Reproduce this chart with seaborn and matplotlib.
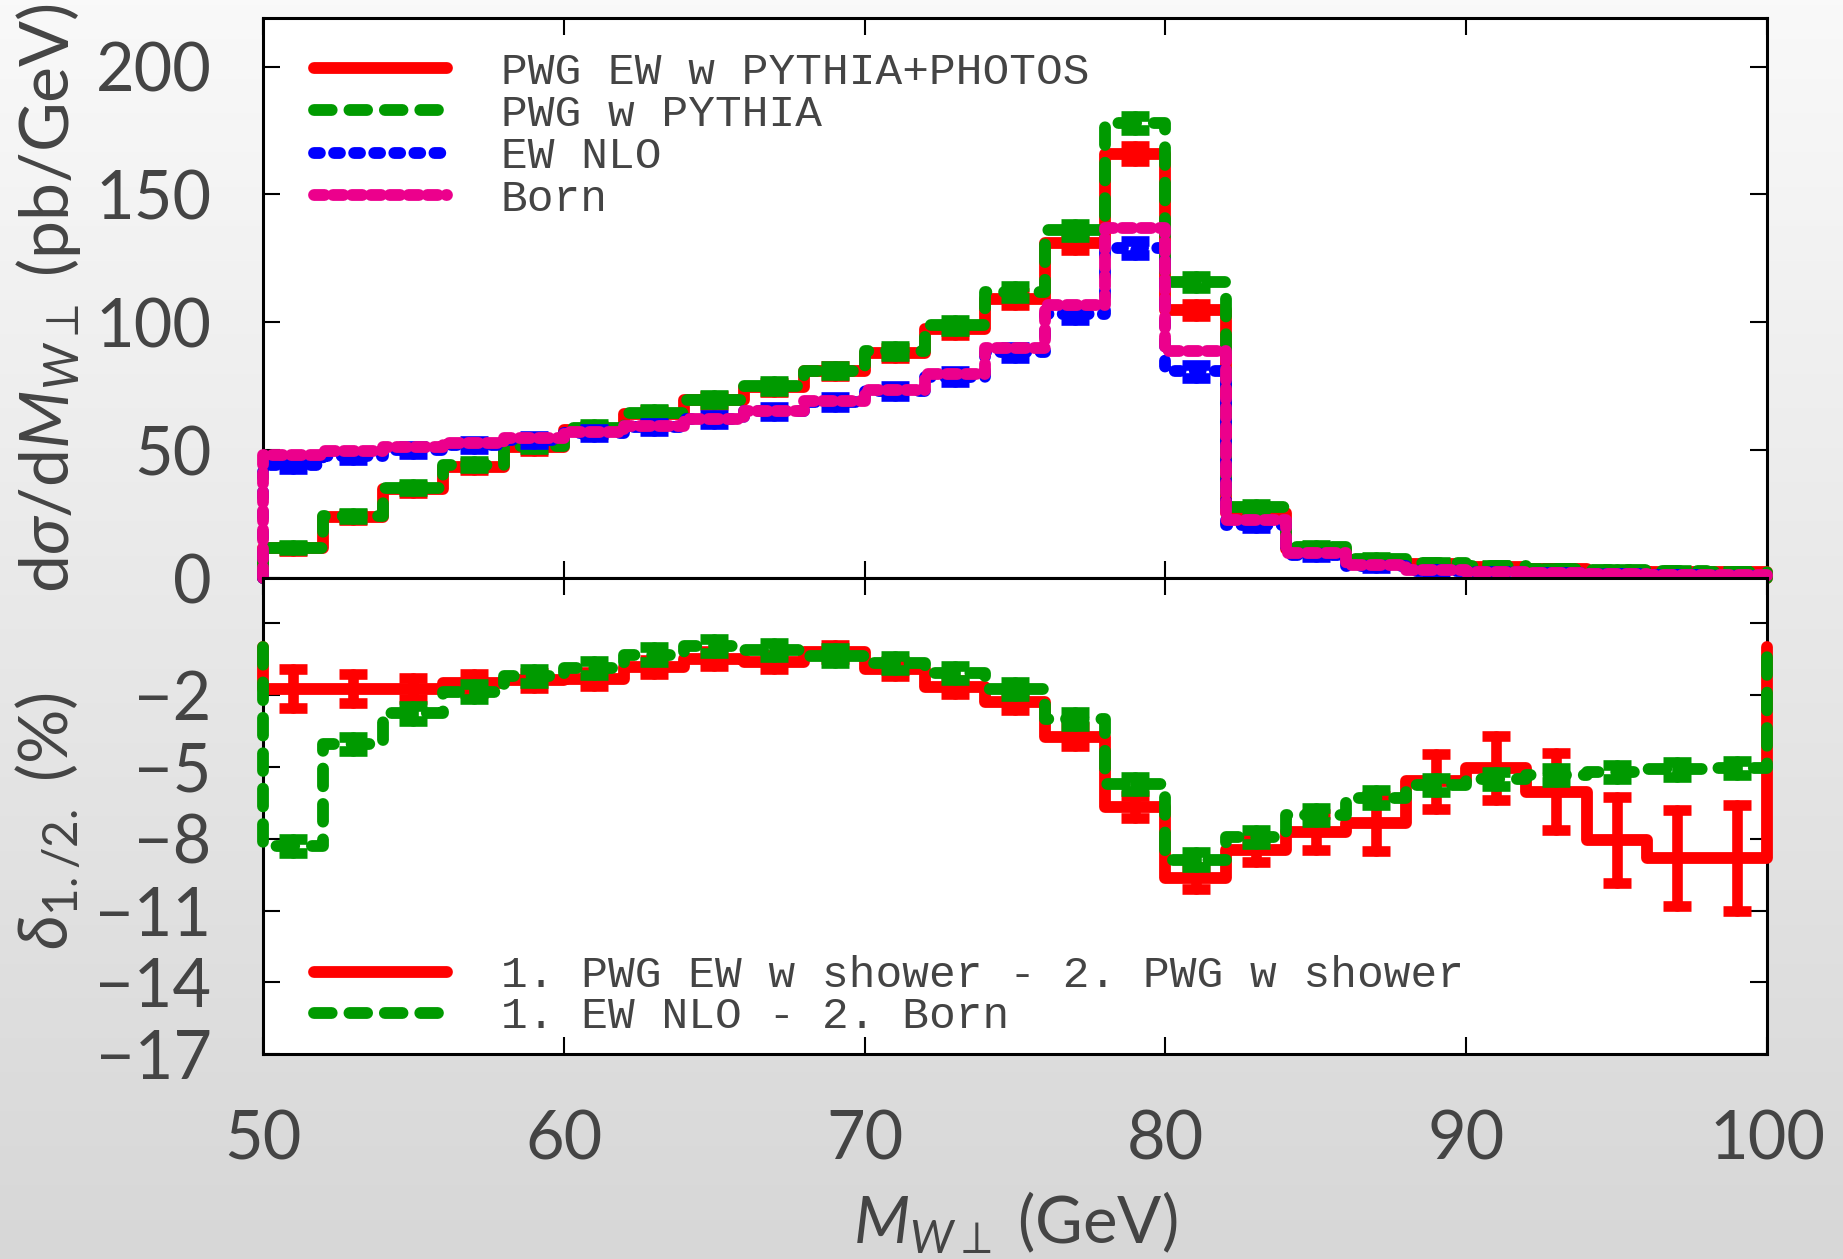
import numpy as np
import pandas as pd
import matplotlib
matplotlib.use("Agg")
import matplotlib.pyplot as plt
from matplotlib.colors import LinearSegmentedColormap
import seaborn as sns

# ---------------- data ----------------
edges = [50, 52, 54, 56, 58, 60, 62, 64, 66, 68, 70, 72, 74, 76, 78, 80,
         82, 84, 86, 88, 90, 92, 94, 96, 98, 100]

pwg_ew_shower = [11.6, 23.7, 34.7, 43.6, 51.1, 57.8, 64.1, 69.5, 74.6, 80.9,
                 88.1, 97.2, 109.2, 130.9, 166.0, 104.8, 25.4, 11.2, 7.0, 5.5,
                 4.3, 3.5, 2.85, 2.45, 2.2]
pwg_shower = [11.8, 24.1, 35.3, 44.3, 51.8, 58.6, 64.6, 69.8, 75.1, 81.1,
              88.9, 98.8, 111.8, 135.9, 177.9, 115.9, 27.8, 12.1, 7.6, 5.8,
              4.5, 3.7, 3.1, 2.7, 2.4]
ew_nlo = [44.2, 47.6, 50.0, 51.9, 54.1, 56.6, 59.2, 62.0, 65.2, 68.8,
          73.1, 78.7, 88.2, 103.4, 129.1, 80.8, 20.7, 9.1, 4.6, 2.9,
          2.4, 1.9, 1.5, 1.2, 0.95]
born = [48.2, 49.6, 51.4, 52.9, 54.8, 57.1, 59.3, 62.0, 65.3, 69.1,
        73.6, 79.6, 89.8, 106.6, 136.9, 88.6, 22.5, 9.8, 4.9, 3.1,
        2.5, 2.0, 1.6, 1.3, 1.0]

err_ew_shower = [1.0, 1.2, 1.3, 1.4, 1.5, 1.6, 1.6, 1.7, 1.8, 1.9, 2.0, 2.1,
                 2.3, 2.5, 2.8, 2.4, 1.2, 0.8, 0.6, 0.5, 0.5, 0.4, 0.4, 0.4, 0.4]
err_shower = [1.0, 1.2, 1.3, 1.4, 1.5, 1.6, 1.6, 1.7, 1.8, 1.9, 2.0, 2.1,
              2.3, 2.5, 2.8, 2.4, 1.2, 0.8, 0.6, 0.5, 0.5, 0.4, 0.4, 0.4, 0.4]
err_nlo = [1.5, 1.5, 1.5, 1.5, 1.5, 1.6, 1.6, 1.7, 1.8, 1.9, 2.0, 2.1,
           2.3, 2.5, 2.8, 2.4, 1.2, 0.8, 0.6, 0.5, 0.5, 0.4, 0.4, 0.4, 0.4]

delta_shower = [-1.72, -1.72, -1.72, -1.5, -1.38, -1.31, -0.82, -0.47, -0.61,
                -0.2, -0.89, -1.65, -2.28, -3.74, -6.68, -9.64, -8.46, -7.7,
                -7.35, -5.6, -5.05, -6.03, -8.04, -8.8, -8.8]
delta_shower_err = [0.8, 0.6, 0.45, 0.4, 0.3, 0.3, 0.3, 0.3, 0.3, 0.3, 0.3,
                    0.3, 0.35, 0.4, 0.45, 0.45, 0.5, 0.75, 1.15, 1.15, 1.35,
                    1.6, 1.8, 2.0, 2.2]
delta_born = [-8.3, -4.03, -2.76, -1.85, -1.2, -0.85, -0.3, 0.05, -0.1, -0.34,
              -0.66, -1.08, -1.75, -3.0, -5.7, -8.87, -7.94, -7.0, -6.28,
              -5.74, -5.49, -5.34, -5.2, -5.1, -5.05]
delta_born_err = [0.3] * 25

upper_labels = ["PWG EW w PYTHIA+PHOTOS", "PWG w PYTHIA", "EW NLO", "Born"]
lower_labels = ["1. PWG EW w shower - 2. PWG w shower", "1. EW NLO - 2. Born"]
upper_yticks = [0, 50, 100, 150, 200]
lower_yticks = [-17, -14, -11, -8, -5, -2, 1]
lower_yticklabels = ["\u221217", "\u221214", "\u221211", "\u22128", "\u22125", "\u22122", ""]
xticks = [50, 60, 70, 80, 90, 100]

# ---------------- style ----------------
sns.set_theme(style="ticks")
plt.rcParams["font.family"] = ["Lato", "DejaVu Sans"]
plt.rcParams["mathtext.fontset"] = "custom"
plt.rcParams["mathtext.rm"] = "Lato"
plt.rcParams["mathtext.it"] = "Lato:italic"
plt.rcParams["mathtext.bf"] = "Lato:bold"

RED = "#ff0000"
GREEN = "#009a00"
BLUE = "#0000ff"
MAGENTA = "#ec008c"
TXT = "#444444"
LW = 8.5

fig = plt.figure(figsize=(18.43, 12.59), dpi=100)

# background gradient
bg = fig.add_axes([0, 0, 1, 1], zorder=-10)
grad = np.linspace(0, 1, 256).reshape(-1, 1)
cmap = LinearSegmentedColormap.from_list("bg", ["#f9f9f9", "#d7d7d7"])
bg.imshow(grad, aspect="auto", cmap=cmap, extent=[0, 1, 0, 1], origin="upper")
bg.set_axis_off()

ax1 = fig.add_axes([0.1427, 0.5409, 0.8161, 0.4448])
ax2 = fig.add_axes([0.1427, 0.1628, 0.8161, 0.3781])
for ax in (ax1, ax2):
    ax.set_facecolor("white")

edges_a = np.array(edges, dtype=float)
centers = 0.5 * (edges_a[:-1] + edges_a[1:])


def step_frame(values):
    x = np.r_[edges_a[0], edges_a]
    y = np.r_[0.0, np.asarray(values, dtype=float), 0.0]
    return pd.DataFrame({"x": x, "y": y})


def draw_series(ax, values, err, color, ls, label, z):
    df = step_frame(values)
    sns.lineplot(data=df, x="x", y="y", ax=ax, estimator=None, sort=False,
                 drawstyle="steps-post", color=color, linewidth=LW,
                 linestyle=ls, label=label, zorder=z, clip_on=False,
                 dash_capstyle="round", solid_capstyle="round",
                 solid_joinstyle="round", dash_joinstyle="round")
    if err is not None:
        eb = ax.errorbar(centers, values, yerr=err, fmt="none", ecolor=color,
                         elinewidth=LW * 0.9, capsize=10, capthick=LW * 0.9,
                         zorder=z, clip_on=False)
        for art in eb.lines[2]:
            art.set_capstyle("round")
            if ls != "-":
                art.set_linestyle(ls)
        for cap in eb.lines[1]:
            cap.set_solid_capstyle("round")


dash_green = (0, (1.5, 1.5))
dot_blue = (0, (0.5, 1.2))
dash_mag = (0, (0.9, 0.7))

draw_series(ax1, pwg_ew_shower, err_ew_shower, RED, "-", upper_labels[0], 3)
draw_series(ax1, pwg_shower, err_shower, GREEN, dash_green, upper_labels[1], 4)
draw_series(ax1, ew_nlo, err_nlo, BLUE, dot_blue, upper_labels[2], 5)
draw_series(ax1, born, None, MAGENTA, dash_mag, upper_labels[3], 6)

draw_series(ax2, delta_shower, delta_shower_err, RED, "-", lower_labels[0], 3)
draw_series(ax2, delta_born, delta_born_err, GREEN, dash_green, lower_labels[1], 4)

# axes setup
ax1.set_xlim(50, 100)
ax2.set_xlim(50, 100)
ax1.set_ylim(0, 219)
ax2.set_ylim(-17, 2.9)
ax1.set_xticks(xticks)
ax2.set_xticks(xticks)
ax1.set_xticklabels([])
ax2.set_xticklabels([str(t) for t in xticks])
ax1.set_yticks(upper_yticks)
ax1.set_yticklabels([str(t) for t in upper_yticks])
ax2.set_yticks(lower_yticks)
ax2.set_yticklabels(lower_yticklabels)

for ax in (ax1, ax2):
    ax.tick_params(axis="both", which="major", direction="in", length=12,
                   width=1.5, color="black", top=True, right=True,
                   labelsize=48, labelcolor=TXT)
    ax.tick_params(axis="y", pad=37)
    ax.tick_params(axis="x", pad=40)
    for sp in ax.spines.values():
        sp.set_visible(True)
        sp.set_linewidth(2.2)
        sp.set_color("black")
    ax.set_xlabel("")
    ax.set_ylabel("")

ax1.set_ylabel(r"d$\sigma$/d$M_{W\perp}$ (pb/GeV)", fontsize=49, color=TXT)
ax1.yaxis.set_label_coords(-0.12, 0.5)
ax2.set_ylabel(r"$\delta_{1./2.}$ (%)", fontsize=49, color=TXT)
ax2.yaxis.set_label_coords(-0.12, 0.49)
ax2.set_xlabel(r"$M_{W\perp}$ (GeV)", fontsize=47, color=TXT)
ax2.xaxis.set_label_coords(0.5, -0.285)

leg_font = {"family": ["Liberation Mono", "DejaVu Sans Mono"], "size": 32}
leg1 = ax1.legend(loc="upper left", bbox_to_anchor=(0.034, 0.94),
                  frameon=False, prop=leg_font, handlelength=3.0,
                  handletextpad=1.2, labelspacing=0.03, borderpad=0,
                  borderaxespad=0)
leg2 = ax2.legend(loc="lower left", bbox_to_anchor=(0.034, 0.035),
                  frameon=False, prop=leg_font, handlelength=3.0,
                  handletextpad=1.2, labelspacing=0.0, borderpad=0,
                  borderaxespad=0)
for leg in (leg1, leg2):
    for t in leg.get_texts():
        t.set_color(TXT)
    for h in leg.get_lines():
        h.set_linewidth(LW)

fig.savefig("out.png", dpi=100)
